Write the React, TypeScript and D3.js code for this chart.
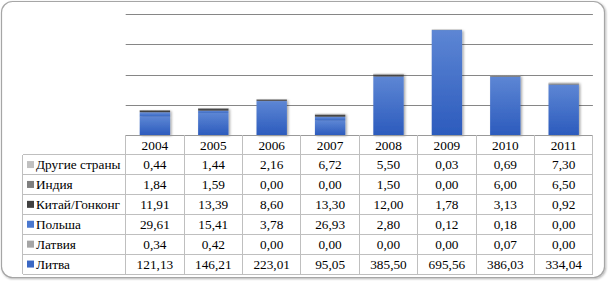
import React from "react";
import * as d3 from "d3";

const years = ["2004", "2005", "2006", "2007", "2008", "2009", "2010", "2011"];
const seriesNames = ["Литва", "Латвия", "Польша", "Китай/Гонконг", "Индия", "Другие страны"];
const litva = [121.13, 146.21, 223.01, 95.05, 385.5, 695.56, 386.03, 334.04];
const latvia = [0.34, 0.42, 0.0, 0.0, 0.0, 0.0, 0.07, 0.0];
const polsha = [29.61, 15.41, 3.78, 26.93, 2.8, 0.12, 0.18, 0.0];
const china = [11.91, 13.39, 8.6, 13.3, 12.0, 1.78, 3.13, 0.92];
const india = [1.84, 1.59, 0.0, 0.0, 1.5, 0.0, 6.0, 6.5];
const other = [0.44, 1.44, 2.16, 6.72, 5.5, 0.03, 0.69, 7.3];
const yTicks = [200, 400, 600, 800];

const seriesValues = [litva, latvia, polsha, china, india, other];
const seriesColors = ["#3a67c4", "#a5a5a5", "#4a78d0", "#404040", "#7f7f7f", "#c0c0c0"];
const gradTop = ["#5d86d4", "#bdbdbd", "#6a90da", "#5a5a5a", "#959595", "#d4d4d4"];
const gradBot = ["#2c5bbd", "#8f8f8f", "#3263c2", "#303030", "#6c6c6c", "#ababab"];

const fmt = (v: number) => v.toFixed(2).replace(".", ",");

export default function App() {
  const W = 608, H = 281;
  const left = 125.7, right = 592.9, top = 14.3, base = 135;
  const labelLeft = 22.7;
  const rowH = 19.9;
  const x = d3.scaleBand<string>().domain(years).range([left, right]).paddingInner(0).paddingOuter(0);
  const y = d3.scaleLinear().domain([0, 800]).range([base, top]);
  const rows = years.map((yr, i) => {
    const o: any = { year: yr };
    seriesNames.forEach((s, j) => (o[s] = seriesValues[j][i]));
    return o;
  });
  const stacked = d3.stack<any>().keys(seriesNames)(rows);
  const bw = x.bandwidth() * 0.52;
  const tableRows = [...seriesNames].reverse();
  const tableBottom = base + rowH * 7;
  const font = "Liberation Serif";

  return (
    <svg width={W} height={H} style={{ position: "absolute", left: 0, top: 0, display: "block" }}>
      <defs>
        {seriesNames.map((s, j) => (
          <linearGradient key={s} id={`g${j}`} x1="0" y1="0" x2="0" y2="1">
            <stop offset="0" stopColor={gradTop[j]} />
            <stop offset="1" stopColor={gradBot[j]} />
          </linearGradient>
        ))}
        <filter id="sh" x="-20%" y="-20%" width="150%" height="150%">
          <feDropShadow dx="1.5" dy="1" stdDeviation="1.2" floodColor="#000" floodOpacity="0.35" />
        </filter>
        <filter id="bsh" x="-5%" y="-5%" width="110%" height="110%">
          <feDropShadow dx="1" dy="1" stdDeviation="1" floodColor="#000" floodOpacity="0.3" />
        </filter>
      </defs>
      <rect x={0} y={0} width={W} height={H} fill="#fff" />
      <rect x={1.5} y={1.5} width={603} height={276} rx={11} fill="#fff" stroke="#a6a6a6" strokeWidth={1.2} filter="url(#bsh)" />
      {yTicks.map((t) => (
        <line key={t} x1={left} x2={right} y1={Math.round(y(t)) + 0.5} y2={Math.round(y(t)) + 0.5} stroke="#868686" strokeWidth={1} />
      ))}
      {years.map((yr, i) => (
        <g key={yr} filter="url(#sh)">
          {stacked.map((layer, j) => {
            const [a, b] = layer[i];
            const h = y(a) - y(b);
            if (h <= 0) return null;
            return (
              <rect key={j} x={(x(yr) as number) + (x.bandwidth() - bw) / 2} y={y(b)} width={bw} height={h} fill={`url(#g${j})`} />
            );
          })}
        </g>
      ))}
      <g stroke="#bfbfbf" strokeWidth={1} shapeRendering="crispEdges">
        <line x1={left} x2={right} y1={base} y2={base} stroke="#9a9a9a" />
        {d3.range(1, 8).map((r) => (
          <line key={r} x1={labelLeft} x2={right} y1={base + rowH * r} y2={base + rowH * r} />
        ))}
        <line x1={labelLeft} x2={labelLeft} y1={base + rowH} y2={tableBottom} />
        {[...years.map((yr) => x(yr) as number), right].map((xx, k) => (
          <line key={k} x1={xx} x2={xx} y1={base} y2={tableBottom} />
        ))}
      </g>
      <g fontFamily={font} fontSize={13.3} fill="#000">
        {years.map((yr) => (
          <text key={yr} x={(x(yr) as number) + x.bandwidth() / 2} y={base + rowH / 2 + 4.6} textAnchor="middle">
            {yr}
          </text>
        ))}
        {tableRows.map((s, r) => {
          const j = seriesNames.indexOf(s);
          const cy = base + rowH * (r + 1) + rowH / 2;
          return (
            <g key={s}>
              <rect x={27} y={cy - 3.8} width={7} height={7} fill={seriesColors[j]} />
              <text x={36} y={cy + 4.6}>{s}</text>
              {years.map((yr, i) => (
                <text key={yr} x={(x(yr) as number) + x.bandwidth() / 2} y={cy + 4.6} textAnchor="middle">
                  {fmt(seriesValues[j][i])}
                </text>
              ))}
            </g>
          );
        })}
      </g>
    </svg>
  );
}
